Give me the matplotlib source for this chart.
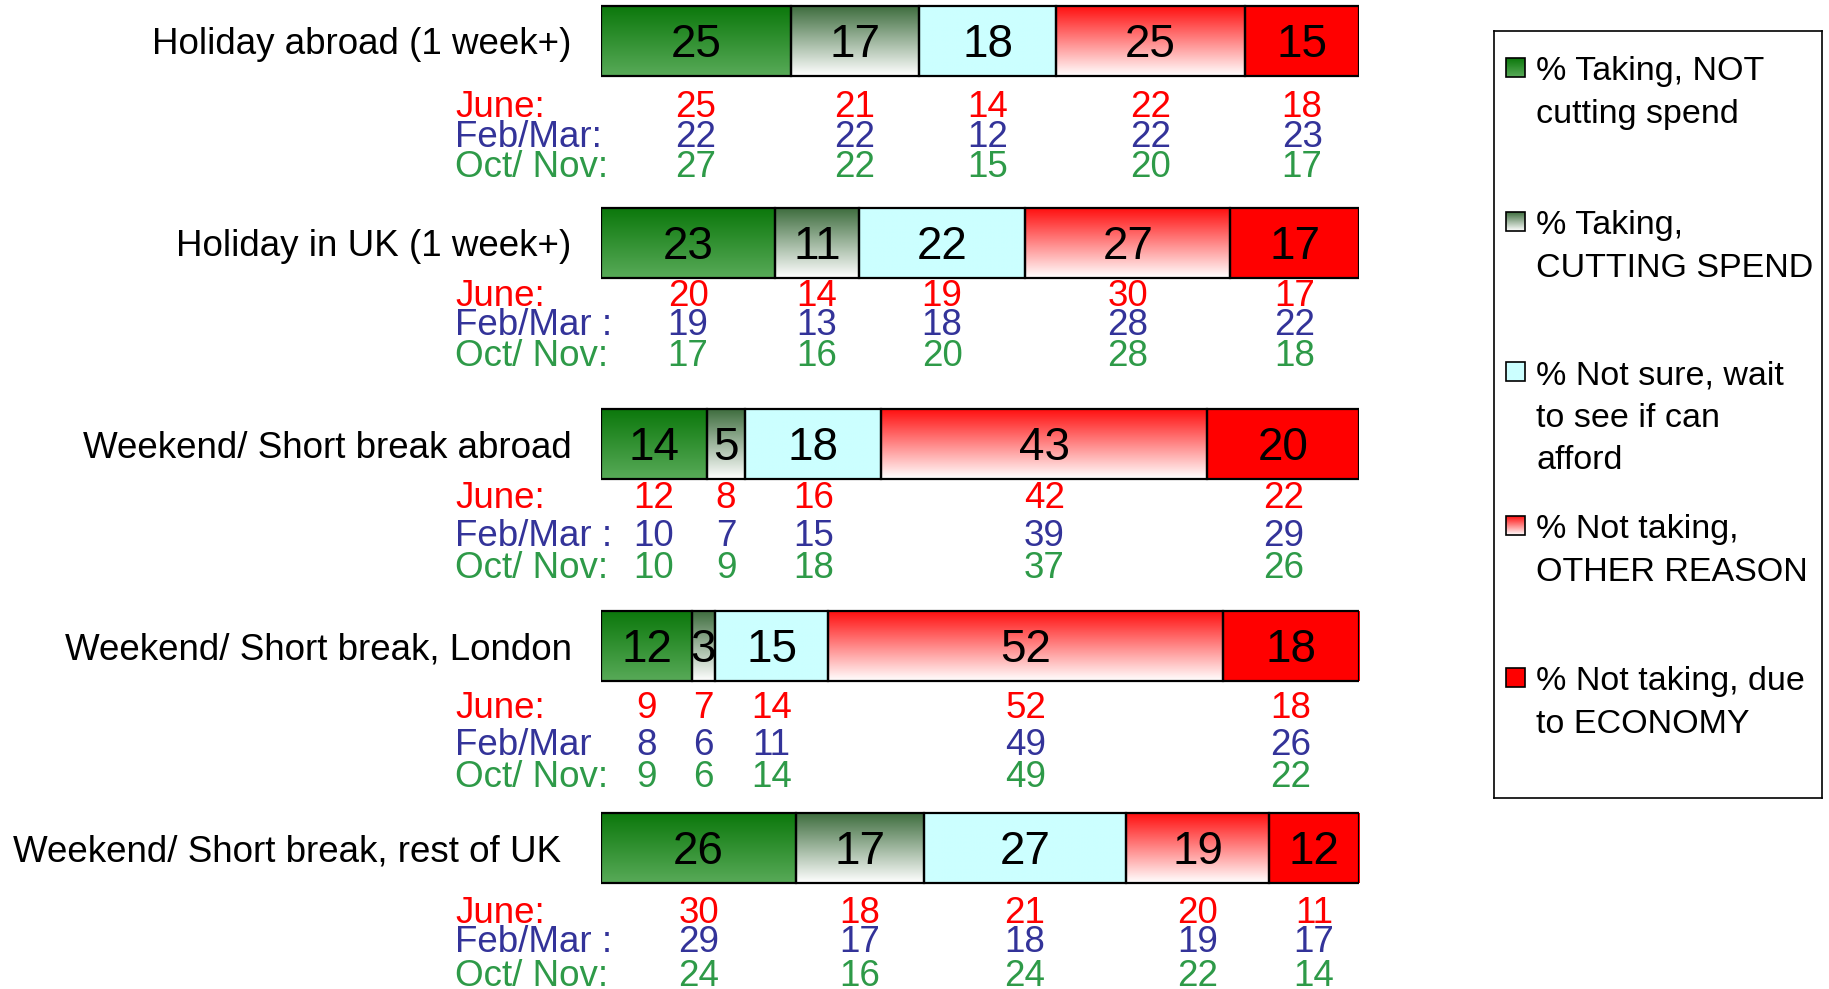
import matplotlib.pyplot as plt
import numpy as np
from matplotlib.colors import to_rgb
from matplotlib.patches import Rectangle

plt.rcParams["font.family"] = ["Liberation Sans", "DejaVu Sans"]

# ── Data ──
ACTIVITIES = [
    "Holiday abroad (1 week+)",
    "Holiday in UK (1 week+)",
    "Weekend/ Short break abroad",
    "Weekend/ Short break, London",
    "Weekend/ Short break, rest of UK",
]
SEGMENTS = [
    "% Taking, NOT\ncutting spend",
    "% Taking,\nCUTTING SPEND",
    "% Not sure, wait\nto see if can\nafford",
    "% Not taking,\nOTHER REASON",
    "% Not taking, due\nto ECONOMY",
]
CURRENT = [
    [25, 17, 18, 25, 15],
    [23, 11, 22, 27, 17],
    [14, 5, 18, 43, 20],
    [12, 3, 15, 52, 18],
    [26, 17, 27, 19, 12],
]
JUNE = [
    [25, 21, 14, 22, 18],
    [20, 14, 19, 30, 17],
    [12, 8, 16, 42, 22],
    [9, 7, 14, 52, 18],
    [30, 18, 21, 20, 11],
]
FEB_MAR = [
    [22, 22, 12, 22, 23],
    [19, 13, 18, 28, 22],
    [10, 7, 15, 39, 29],
    [8, 6, 11, 49, 26],
    [29, 17, 18, 19, 17],
]
OCT_NOV = [
    [27, 22, 15, 20, 17],
    [17, 16, 20, 28, 18],
    [10, 9, 18, 37, 26],
    [9, 6, 14, 49, 22],
    [24, 16, 24, 22, 14],
]
WAVE_LABELS = [
    ["June:", "Feb/Mar:", "Oct/ Nov:"],
    ["June:", "Feb/Mar :", "Oct/ Nov:"],
    ["June:", "Feb/Mar :", "Oct/ Nov:"],
    ["June:", "Feb/Mar", "Oct/ Nov:"],
    ["June:", "Feb/Mar :", "Oct/ Nov:"],
]

# ── Styles / layout ──
FILLS = [
    ("#0c780c", "#58aa58"),
    ("#3f6e3f", "#ffffff"),
    ("#ccffff", "#ccffff"),
    ("#ff1010", "#ffffff"),
    ("#ff0000", "#ff0000"),
]
WAVE_COLORS = ["#ff0000", "#333399", "#2e9a48"]
W, H = 1829, 989
ROW_PX = 201.75
FIRST_ROW_PX = 41
BAR_LEFT, BAR_WIDTH = 601, 758
TEXT_DY = 4  # px, nudges va="center" text down onto the visual centre
# pixel offsets of the June / Feb / Oct lines below each bar centre
SUB_OFFSETS = [
    [63, 93, 123],
    [50, 79, 110],
    [50, 88, 120],
    [58, 95, 127],
    [62, 91, 125],
]
LABEL_RIGHT_PX = [571, 571, 572, 572, 561]
LEGEND_Y = [80, 234, 384, 538, 690]
LINE_PX = 42.5


def gradient_fill(ax, x0, x1, y_top, y_bottom, colors, zorder=2):
    top, bottom = np.array(to_rgb(colors[0])), np.array(to_rgb(colors[1]))
    t = np.linspace(0, 1, 128)[:, None]
    img = (top * (1 - t) + bottom * t)[:, None, :]
    ax.imshow(img, extent=(x0, x1, y_bottom, y_top), origin="upper",
              aspect="auto", interpolation="bilinear", zorder=zorder)


def main() -> int:
    fig = plt.figure(figsize=(W / 100, H / 100), dpi=100)
    ax = fig.add_axes([BAR_LEFT / W, 0, BAR_WIDTH / W, 1])
    px_x = BAR_WIDTH / 100
    dy = TEXT_DY / ROW_PX

    bar_h = 70 / ROW_PX
    for i, row in enumerate(CURRENT):
        # rows are drawn as shares of their own total (rounding makes some 101)
        widths = np.array(row) / sum(row) * 100
        lefts = np.concatenate([[0], np.cumsum(widths)[:-1]])
        bars = ax.barh(i, widths, left=lefts, height=bar_h, facecolor="none",
                       edgecolor="black", linewidth=1.6, zorder=3)
        for j, bar in enumerate(bars):
            x0, y0 = bar.get_x(), bar.get_y()
            gradient_fill(ax, x0, x0 + bar.get_width(), y0, y0 + bar.get_height(), FILLS[j])
            cx = x0 + bar.get_width() / 2
            ax.text(cx, i + dy, str(row[j]), ha="center", va="center", fontsize=33, zorder=4)
            for k, wave in enumerate([JUNE, FEB_MAR, OCT_NOV]):
                ax.text(cx, i + SUB_OFFSETS[i][k] / ROW_PX + dy, str(wave[i][j]),
                        ha="center", va="center", fontsize=26.5, color=WAVE_COLORS[k])

        ax.text((LABEL_RIGHT_PX[i] - BAR_LEFT) / px_x, i + dy, ACTIVITIES[i],
                ha="right", va="center", fontsize=26.5)
        for k, lab in enumerate(WAVE_LABELS[i]):
            ax.text((455 - BAR_LEFT) / px_x, i + SUB_OFFSETS[i][k] / ROW_PX + dy, lab,
                    ha="left", va="center", fontsize=26.5, color=WAVE_COLORS[k])

    ax.set_xlim(0, 100)
    ax.set_ylim((H - FIRST_ROW_PX) / ROW_PX, -FIRST_ROW_PX / ROW_PX)
    ax.axis("off")

    # ── Legend box ──
    lx0, lx1, ly0, ly1 = 1494, 1822, 31, 798
    lax = fig.add_axes([lx0 / W, 1 - ly1 / H, (lx1 - lx0) / W, (ly1 - ly0) / H])
    lax.set_xticks([])
    lax.set_yticks([])
    for sp in lax.spines.values():
        sp.set_linewidth(1.2)
    for j, label in enumerate(SEGMENTS):
        base = LEGEND_Y[j]
        sq_top, sq_bot = base - 22, base - 3
        gradient_fill(lax, 1506, 1525, sq_top, sq_bot, FILLS[j])
        lax.add_patch(Rectangle((1506, sq_top), 19, sq_bot - sq_top, fill=False,
                                edgecolor="black", linewidth=1.2, zorder=3))
        for k, line in enumerate(label.split("\n")):
            lax.text(1536, base + k * LINE_PX, line, ha="left", va="baseline", fontsize=24.5)
    lax.set_xlim(lx0, lx1)
    lax.set_ylim(ly1, ly0)

    fig.savefig("out.png", dpi=100)
    plt.close(fig)
    return 0


if __name__ == "__main__":
    raise SystemExit(main())
